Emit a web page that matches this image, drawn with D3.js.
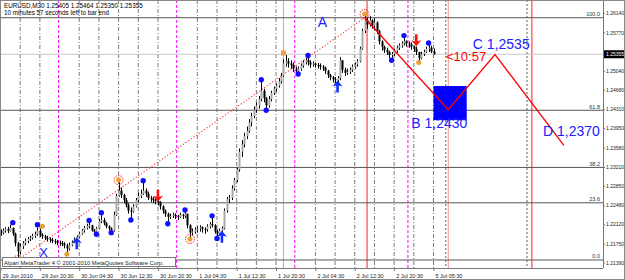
<!DOCTYPE html>
<html>
<head>
<meta charset="utf-8">
<script src="https://cdn.jsdelivr.net/npm/d3@7"></script>
<style>
  body { margin: 0; background: #fff; }
  svg { display: block; font-family: "Liberation Sans", Arial, sans-serif; }
</style>
</head>
<body>
<svg id="chart" width="625" height="280"></svg>
<script>
// EURUSD M30, 29 Jun 12:30 .. 5 Jul 05:30 (one entry per bar)
const highs = [
  1.2202,1.2204,1.2206,1.2207,1.2211,1.2206,1.2196,1.2178,1.2175,1.2180,
  1.2185,1.2188,1.2190,1.2194,1.2198,1.2206,1.2204,1.2195,1.2192,1.2190,
  1.2187,1.2186,1.2184,1.2182,1.2181,1.2180,1.2178,1.2175,1.2177,1.2181,
  1.2187,1.2191,1.2197,1.2203,1.2209,1.2213,1.2215,1.2211,1.2203,1.2207,
  1.2222,1.2230,1.2224,1.2216,1.2210,1.2206,1.2236,1.2270,1.2292,1.2282,
  1.2270,1.2262,1.2252,1.2244,1.2250,1.2262,1.2272,1.2278,1.2291,1.2280,
  1.2274,1.2266,1.2264,1.2262,1.2262,1.2256,1.2248,1.2240,1.2234,1.2232,
  1.2234,1.2233,1.2230,1.2234,1.2232,1.2236,1.2232,1.2212,1.2204,1.2206,
  1.2208,1.2210,1.2208,1.2206,1.2212,1.2216,1.2224,1.2212,1.2202,1.2204,
  1.2208,1.2242,1.2264,1.2268,1.2286,1.2300,1.2320,1.2356,1.2372,1.2386,
  1.2398,1.2412,1.2424,1.2436,1.2444,1.2456,1.2483,1.2470,1.2454,1.2456,
  1.2466,1.2474,1.2480,1.2490,1.2500,1.2526,1.2534,1.2528,1.2524,1.2520,
  1.2512,1.2512,1.2518,1.2524,1.2528,1.2530,1.2524,1.2522,1.2520,1.2519,
  1.2518,1.2515,1.2512,1.2506,1.2498,1.2494,1.2492,1.2494,1.2530,1.2524,
  1.2510,1.2508,1.2510,1.2516,1.2520,1.2526,1.2550,1.2584,1.2612,1.2606,
  1.2608,1.2602,1.2604,1.2598,1.2582,1.2562,1.2552,1.2548,1.2542,1.2540,
  1.2546,1.2552,1.2556,1.2560,1.2568,1.2562,1.2560,1.2558,1.2552,1.2550,
  1.2540,1.2540,1.2544,1.2550,1.2554,1.2552,1.25464
];
const lows = [
  1.2190,1.2193,1.2196,1.2195,1.2198,1.2190,1.2170,1.2143,1.2155,1.2165,
  1.2172,1.2176,1.2180,1.2183,1.2186,1.2190,1.2188,1.2184,1.2182,1.2179,
  1.2177,1.2176,1.2174,1.2172,1.2171,1.2170,1.2166,1.2158,1.2162,1.2170,
  1.2176,1.2180,1.2185,1.2192,1.2196,1.2202,1.2204,1.2198,1.2196,1.2196,
  1.2202,1.2214,1.2210,1.2204,1.2200,1.2198,1.2198,1.2228,1.2264,1.2262,
  1.2252,1.2244,1.2232,1.2224,1.2234,1.2244,1.2254,1.2262,1.2268,1.2264,
  1.2258,1.2254,1.2252,1.2250,1.2248,1.2240,1.2232,1.2226,1.2217,1.2222,
  1.2224,1.2222,1.2220,1.2224,1.2222,1.2224,1.2204,1.2185,1.2190,1.2194,
  1.2196,1.2198,1.2196,1.2194,1.2198,1.2204,1.2206,1.2194,1.2189,1.2192,
  1.2196,1.2202,1.2234,1.2252,1.2258,1.2276,1.2292,1.2312,1.2340,1.2358,
  1.2374,1.2386,1.2398,1.2414,1.2424,1.2432,1.2446,1.2444,1.2432,1.2434,
  1.2446,1.2458,1.2464,1.2472,1.2480,1.2492,1.2512,1.2510,1.2508,1.2502,
  1.2498,1.2500,1.2504,1.2510,1.2516,1.2514,1.2510,1.2512,1.2510,1.2508,
  1.2506,1.2504,1.2498,1.2490,1.2486,1.2482,1.2480,1.2481,1.2486,1.2500,
  1.2494,1.2496,1.2498,1.2502,1.2508,1.2512,1.2520,1.2544,1.2576,1.2584,
  1.2588,1.2584,1.2582,1.2574,1.2554,1.2542,1.2538,1.2534,1.2528,1.2527,
  1.2532,1.2538,1.2544,1.2548,1.2552,1.2550,1.2548,1.2544,1.2540,1.2534,
  1.2522,1.2526,1.2532,1.2538,1.2540,1.2538,1.25350
];
const closes = [
  1.2196,1.2200,1.2203,1.2199,1.2205,1.2194,1.2176,1.2160,1.2170,1.2176,
  1.2180,1.2184,1.2186,1.2190,1.2193,1.2200,1.2192,1.2189,1.2186,1.2184,
  1.2182,1.2180,1.2179,1.2177,1.2176,1.2175,1.2172,1.2166,1.2172,1.2178,
  1.2183,1.2188,1.2194,1.2200,1.2205,1.2209,1.2210,1.2200,1.2198,1.2204,
  1.2218,1.2220,1.2214,1.2208,1.2204,1.2200,1.2230,1.2266,1.2276,1.2268,
  1.2258,1.2248,1.2238,1.2236,1.2246,1.2258,1.2266,1.2270,1.2276,1.2270,
  1.2262,1.2260,1.2258,1.2256,1.2254,1.2246,1.2238,1.2232,1.2226,1.2228,
  1.2230,1.2228,1.2226,1.2230,1.2228,1.2232,1.2210,1.2196,1.2198,1.2202,
  1.2204,1.2206,1.2203,1.2202,1.2208,1.2212,1.2210,1.2198,1.2194,1.2200,
  1.2204,1.2238,1.2260,1.2262,1.2280,1.2296,1.2316,1.2350,1.2364,1.2380,
  1.2390,1.2406,1.2418,1.2430,1.2438,1.2450,1.2466,1.2452,1.2438,1.2450,
  1.2462,1.2470,1.2476,1.2484,1.2494,1.2518,1.2522,1.2518,1.2515,1.2508,
  1.2504,1.2508,1.2514,1.2520,1.2524,1.2520,1.2516,1.2518,1.2515,1.2514,
  1.2512,1.2510,1.2504,1.2496,1.2492,1.2488,1.2486,1.2490,1.2524,1.2506,
  1.2500,1.2502,1.2506,1.2512,1.2516,1.2522,1.2546,1.2580,1.2600,1.2592,
  1.2600,1.2590,1.2596,1.2580,1.2560,1.2550,1.2544,1.2540,1.2534,1.2536,
  1.2542,1.2548,1.2552,1.2556,1.2560,1.2556,1.2554,1.2550,1.2546,1.2540,
  1.2528,1.2536,1.2540,1.2546,1.2548,1.25405,1.25355
];
const firstOpen = 1.2199;

const yTicks = [1.2139,1.2175,1.2212,1.2248,1.2285,1.2321,1.2358,1.2395,1.2431,1.2468,1.2504,1.2577,1.2614];
const xTickTimes = ["2010-06-29 12:30","2010-06-29 20:30","2010-06-30 04:30","2010-06-30 12:30","2010-06-30 20:30",
  "2010-07-01 04:30","2010-07-01 12:30","2010-07-01 20:30","2010-07-02 04:30","2010-07-02 12:30","2010-07-02 20:30","2010-07-05 05:30"];
const xTickLabels = ["29 Jun 2010","29 Jun 20:30","30 Jun 04:30","30 Jun 12:30","30 Jun 20:30",
  "1 Jul 04:30","1 Jul 12:30","1 Jul 20:30","2 Jul 04:30","2 Jul 12:30","2 Jul 20:30","5 Jul 05:30"];
const daySeparators = ["2010-06-30 00:00","2010-07-01 00:00","2010-07-02 00:00","2010-07-05 00:00"];
const redLines = ["2010-07-01 22:00","2010-07-02 15:00","2010-07-05 08:30","2010-07-06 01:30"];
const dashLines = ["2010-07-05 08:00","2010-07-06 00:30"];

const fibLow = 1.2144, fibHigh = 1.2605;
const fibLevels = [0, 23.6, 38.2, 61.8, 100];
const fibStart = "2010-06-29 16:00", fibEnd = "2010-07-02 14:30";

// ABCD projection
const abcdTimes = ["2010-07-02 14:30","2010-07-05 08:30","2010-07-05 18:00","2010-07-06 08:00"];
const abcdPrices = [1.2605, 1.2430, 1.2535, 1.2362];
const abcdLabels = [
  {text: "A", time: "2010-07-02 05:00", price: 1.2588},
  {text: "B 1,2430", time: "2010-07-05 01:00", price: 1.2395},
  {text: "C 1,2535", time: "2010-07-05 13:30", price: 1.2546},
  {text: "D 1,2370", time: "2010-07-06 03:45", price: 1.2380}
];
const boxTimes = ["2010-07-05 05:30","2010-07-05 12:15"], boxPrices = [1.2475, 1.2410];

const blueDots = [[5,1.2215],[15,1.2211],[36,1.2219],[39,1.2193],[41,1.2234],[45,1.2196],[53,1.2220],
  [58,1.2295],[68,1.2213],[75,1.2239],[86,1.2228],[88,1.2185],[106,1.2487],[108,1.2429],
  [121,1.2498],[125,1.2533],[159,1.2524],[164,1.2571],[174,1.2557]];
const orangeDots = [[17,1.2208],[27,1.2155],[170,1.2520]];
const orangeSquares = [[115,1.2538]];
const redCircles = [[7,1.2144],[48,1.2296],[77,1.2184],[148,1.2612]];
const upArrows = [[31,1.2176],[90,1.2188],[137,1.2474]];
const downArrows = [[64,1.2266],[169,1.2562]];

const bid = 1.25355;

// ---------------------------------------------------------------
const W = 625, H = 280, plotR = 603, plotB = 268;
const svg = d3.select("#chart");

function barOf(t) {
  const d = Date.parse(t.replace(" ", "T") + ":00Z");
  let b = (d - Date.UTC(2010, 5, 29, 12, 30)) / 1800000;
  if (d >= Date.UTC(2010, 6, 5)) b -= 98; // weekend gap, Fri 23:00 .. Mon 00:00
  return b;
}

const x = d3.scaleLinear().domain([0, 176]).range([0.5, 433.5]);
const y = d3.scaleLinear().domain([1.2139, 1.2614]).range([262.6, 13]);

svg.append("rect").attr("width", W).attr("height", H).attr("fill", "#fff");

// vertical grid every 4 hours
const sepBars = daySeparators.map(barOf);
const grid = svg.append("g");
for (let b = 8; b <= 176; b += 8) {
  if (sepBars.some(s => Math.abs(s - b) < 1.5)) continue;
  grid.append("line").attr("x1", x(b)).attr("x2", x(b)).attr("y1", 0).attr("y2", plotB)
    .attr("stroke", "#7a7a7a").attr("stroke-dasharray", "4,2,1,2");
}
dashLines.forEach(t => {
  grid.append("line").attr("x1", x(barOf(t))).attr("x2", x(barOf(t))).attr("y1", 0).attr("y2", plotB)
    .attr("stroke", "#606060").attr("stroke-dasharray", "2,2");
});
sepBars.forEach(b => {
  grid.append("line").attr("x1", x(b) + 1.5).attr("x2", x(b) + 1.5).attr("y1", 0).attr("y2", plotB)
    .attr("stroke", "#ff00ff").attr("stroke-dasharray", "3,2");
});
redLines.forEach((t, i) => {
  grid.append("line").attr("x1", x(barOf(t))).attr("x2", x(barOf(t))).attr("y1", 0).attr("y2", plotB)
    .attr("stroke", i % 2 ? "#ff2020" : "#f49090");
});

// fibonacci levels
fibLevels.forEach(l => {
  const p = fibLow + (fibHigh - fibLow) * l / 100;
  svg.append("line").attr("x1", 0).attr("x2", plotR).attr("y1", y(p)).attr("y2", y(p))
    .attr("stroke", "#555").attr("stroke-width", 1);
  svg.append("text").attr("x", 600).attr("y", y(p) - 1.5).attr("text-anchor", "end")
    .attr("font-size", 5.5).attr("fill", "#333").text(l.toFixed(1));
});

// bid line
svg.append("line").attr("x1", 0).attr("x2", plotR).attr("y1", y(bid)).attr("y2", y(bid))
  .attr("stroke", "#c8c8c8");

// fib trend line (dotted)
svg.append("line")
  .attr("x1", x(barOf(fibStart))).attr("y1", y(fibLow))
  .attr("x2", x(barOf(fibEnd))).attr("y2", y(fibHigh))
  .attr("stroke", "#ff3030").attr("stroke-width", 1.1).attr("stroke-dasharray", "1.2,2");

// candles
const candles = svg.append("g");
closes.forEach((c, i) => {
  const o = i === 0 ? firstOpen : closes[i - 1];
  const cx = Math.round(x(i));
  candles.append("line").attr("x1", cx + 0.5).attr("x2", cx + 0.5)
    .attr("y1", y(highs[i])).attr("y2", y(lows[i])).attr("stroke", "#000");
  const top = y(Math.max(o, c)), bot = y(Math.min(o, c));
  candles.append("rect").attr("x", cx - 0.5).attr("width", 2)
    .attr("y", top).attr("height", Math.max(1, bot - top))
    .attr("fill", c >= o ? "#a8a8a8" : "#000");
});

// markers
const mk = svg.append("g");
redCircles.forEach(([b, p]) => {
  mk.append("circle").attr("cx", x(b)).attr("cy", y(p)).attr("r", 4.5)
    .attr("fill", "none").attr("stroke", "#ff2020").attr("stroke-dasharray", "1.5,1");
  mk.append("circle").attr("cx", x(b)).attr("cy", y(p)).attr("r", 2.5).attr("fill", "#e8a030");
});
orangeDots.forEach(([b, p]) => {
  mk.append("circle").attr("cx", x(b)).attr("cy", y(p)).attr("r", 2.5).attr("fill", "#e8a030");
});
orangeSquares.forEach(([b, p]) => {
  mk.append("rect").attr("x", x(b) - 2.5).attr("y", y(p) - 2.5).attr("width", 5).attr("height", 5)
    .attr("fill", "#f0a040");
});
blueDots.forEach(([b, p]) => {
  mk.append("circle").attr("cx", x(b)).attr("cy", y(p)).attr("r", 2.7).attr("fill", "#1010ff");
});
upArrows.forEach(([b, p]) => {
  const cx = x(b), cy = y(p);
  mk.append("path").attr("d", `M${cx},${cy - 6}L${cx + 5},${cy}L${cx + 1.3},${cy - 1}L${cx + 1.3},${cy + 6}L${cx - 1.3},${cy + 6}L${cx - 1.3},${cy - 1}L${cx - 5},${cy}Z`)
    .attr("fill", "#1030ff");
});
downArrows.forEach(([b, p]) => {
  const cx = x(b), cy = y(p);
  mk.append("path").attr("d", `M${cx},${cy + 6}L${cx + 5},${cy}L${cx + 1.3},${cy + 1}L${cx + 1.3},${cy - 6}L${cx - 1.3},${cy - 6}L${cx - 1.3},${cy + 1}L${cx - 5},${cy}Z`)
    .attr("fill", "#ff1010");
});

// ABCD pattern
svg.append("rect")
  .attr("x", x(barOf(boxTimes[0]))).attr("y", y(boxPrices[0]))
  .attr("width", x(barOf(boxTimes[1])) - x(barOf(boxTimes[0])))
  .attr("height", y(boxPrices[1]) - y(boxPrices[0]))
  .attr("fill", "#0000ff");
svg.append("path")
  .datum(abcdTimes.map((t, i) => [barOf(t), abcdPrices[i]]))
  .attr("fill", "none").attr("stroke", "#ff0000").attr("stroke-width", 1.3)
  .attr("d", d3.line().x(d => x(d[0])).y(d => y(d[1])));
abcdLabels.forEach(l => {
  svg.append("text").attr("x", x(barOf(l.time))).attr("y", y(l.price))
    .attr("font-size", 14).attr("fill", "#2020ff").text(l.text);
});
svg.append("text").attr("x", x(17) - 3).attr("y", y(1.2150))
  .attr("font-size", 13).attr("fill", "#2020ff").text("X");
svg.append("text").attr("x", 446).attr("y", y(1.2523))
  .attr("font-size", 13).attr("fill", "#ff0000").text("<10:57");

// axes
const yAxis = svg.append("g").attr("transform", `translate(${plotR},0)`)
  .call(d3.axisRight(y).tickValues(yTicks).tickSize(2).tickFormat(d3.format(".5f")));
yAxis.select(".domain").attr("d", `M0.5,0V${plotB}`).attr("stroke", "#777");
yAxis.selectAll("text").attr("font-size", 5).attr("x", 3).attr("fill", "#222")
  .style("font-family", "Liberation Sans, Arial");
yAxis.selectAll(".tick line").attr("stroke", "#777");

const xAxis = svg.append("g").attr("transform", `translate(0,${plotB})`)
  .call(d3.axisBottom(x).tickValues(xTickTimes.map(barOf)).tickSize(3)
    .tickFormat((d, i) => xTickLabels[i]));
xAxis.select(".domain").attr("d", `M0,0.5H${plotR}`).attr("stroke", "#777");
xAxis.selectAll("text").attr("font-size", 5.5).attr("text-anchor", "start").attr("dx", 1.5)
  .attr("y", 6).attr("fill", "#222").style("font-family", "Liberation Sans, Arial");
xAxis.selectAll(".tick line").attr("stroke", "#777");

// current price tag
svg.append("rect").attr("x", plotR + 1).attr("y", y(bid) - 4).attr("width", 21).attr("height", 8).attr("fill", "#000");
svg.append("text").attr("x", plotR + 3).attr("y", y(bid) + 2).attr("font-size", 5).attr("fill", "#fff")
  .text(bid.toFixed(5));

// header and copyright
svg.append("text").attr("x", 4).attr("y", 8).attr("font-size", 6.3).attr("fill", "#000")
  .text("EURUSD,M30  1.25405 1.25464 1.25350 1.25355");
svg.append("text").attr("x", 4).attr("y", 15).attr("font-size", 6.3).attr("fill", "#000")
  .text("10 minutes 57 seconds left to bar end");
svg.append("rect").attr("x", 2.5).attr("y", 257.5).attr("width", 173).attr("height", 9)
  .attr("fill", "#fff").attr("stroke", "#777");
svg.append("text").attr("x", 4).attr("y", 264.5).attr("font-size", 5.8).attr("fill", "#222")
  .text("Alpari MetaTrader 4 © 2001-2010 MetaQuotes Software Corp.");

svg.append("rect").attr("x", 0.5).attr("y", 0.5).attr("width", W - 1).attr("height", H - 1)
  .attr("fill", "none").attr("stroke", "#888");
</script>
</body>
</html>
